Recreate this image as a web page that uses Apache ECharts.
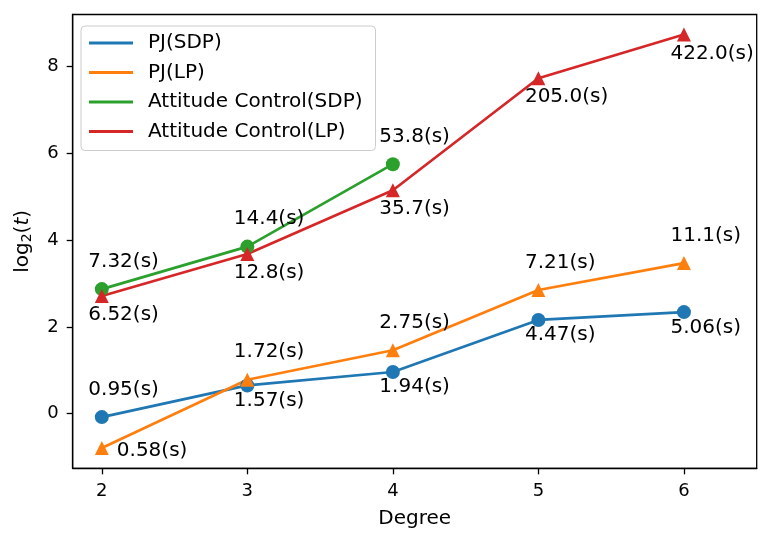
<!DOCTYPE html>
<html>
<head>
<meta charset="utf-8">
<script src="https://cdn.jsdelivr.net/npm/echarts@6/dist/echarts.min.js"></script>
<style>
html,body{margin:0;padding:0;background:#fff;}
#chart{width:771px;height:545px;}
</style>
</head>
<body>
<div id="chart"></div>
<script>
// ---- data ----
const degrees = [2, 3, 4, 5, 6];
const xTicks = [2, 3, 4, 5, 6];
const yTicks = [0, 2, 4, 6, 8];

const pjSdpLog = [-0.08, 0.65, 0.96, 2.16, 2.34];
const pjSdpTime = ['0.95(s)', '1.57(s)', '1.94(s)', '4.47(s)', '5.06(s)'];

const pjLpLog = [-0.79, 0.78, 1.46, 2.85, 3.47];
const pjLpTime = ['0.58(s)', '1.72(s)', '2.75(s)', '7.21(s)', '11.1(s)'];

const acSdpDegrees = [2, 3, 4];
const acSdpLog = [2.87, 3.85, 5.75];
const acSdpTime = ['7.32(s)', '14.4(s)', '53.8(s)'];

const acLpLog = [2.71, 3.68, 5.15, 7.73, 8.74];
const acLpTime = ['6.52(s)', '12.8(s)', '35.7(s)', '205.0(s)', '422.0(s)'];

// ---- label placement (style, not data) ----
const FONT = 'DejaVu Sans';
const labelOffsets = {
  up: [-13.5, -27.5],
  downLP: [-13.5, 19],
  downSDP: [-13.5, 15.3],
  right: [15, 2.5]
};
const pjSdpSides = ['up', 'downSDP', 'downSDP', 'downSDP', 'downSDP'];
const pjLpSides = ['right', 'up', 'up', 'up', 'up'];
const acSdpSides = ['up', 'up', 'up'];
const acLpSides = ['downLP', 'downLP', 'downLP', 'downLP', 'downLP'];

function makeSeries(name, color, symbol, xs, ys, labels, sides) {
  return {
    name: name,
    type: 'line',
    symbol: symbol,
    symbolSize: 14,
    lineStyle: { width: 2.7, color: color },
    itemStyle: { color: color },
    emphasis: { disabled: true },
    z: 2,
    data: xs.map(function (x, i) {
      return {
        value: [x, ys[i]],
        label: {
          show: true,
          formatter: labels[i],
          position: 'inside',
          align: 'left',
          verticalAlign: 'middle',
          offset: labelOffsets[sides[i]],
          color: '#000',
          fontSize: 20,
          fontFamily: FONT
        }
      };
    })
  };
}

const chart = echarts.init(document.getElementById('chart'), null, { renderer: 'canvas' });
chart.setOption({
  animation: false,
  backgroundColor: '#fff',
  textStyle: { fontFamily: FONT },
  grid: {
    left: 72.7, right: 14.3, top: 14.5, bottom: 76.7,
    show: true, borderColor: '#000', borderWidth: 1.3, backgroundColor: 'transparent'
  },
  legend: {
    orient: 'vertical',
    left: 81, top: 26,
    icon: 'rect',
    itemWidth: 44,
    itemHeight: 2.8,
    itemGap: 9.5,
    selectedMode: false,
    padding: [7, 13, 9, 8],
    backgroundColor: 'rgba(255,255,255,0.8)',
    borderColor: '#cccccc',
    borderWidth: 1,
    borderRadius: 4,
    textStyle: { fontSize: 20, lineHeight: 20, color: '#000', fontFamily: FONT, padding: [0, 0, 0, 10] },
    data: ['PJ(SDP)', 'PJ(LP)', 'Attitude Control(SDP)', 'Attitude Control(LP)']
  },
  xAxis: {
    type: 'value',
    min: 1.8, max: 6.5,
    name: 'Degree',
    nameLocation: 'middle',
    nameGap: 38,
    nameTextStyle: { fontSize: 20, lineHeight: 24, color: '#000', fontFamily: FONT },
    axisLine: { show: true, onZero: false, lineStyle: { color: '#000', width: 1.3 } },
    axisTick: { show: true, length: 6, customValues: xTicks, lineStyle: { color: '#000', width: 1.3 } },
    axisLabel: { customValues: xTicks, margin: 14, fontSize: 18, lineHeight: 18, color: '#000', fontFamily: FONT },
    splitLine: { show: false }
  },
  yAxis: {
    type: 'value',
    min: -1.26, max: 9.2,
    name: '{a|log}{sub|2}{a|(}{it|t}{a|)}',
    nameLocation: 'middle',
    nameGap: 38,
    nameTextStyle: {
      color: '#000', fontFamily: FONT,
      rich: {
        a: { fontSize: 20, lineHeight: 24, color: '#000', fontFamily: FONT },
        sub: { fontSize: 14, lineHeight: 16, verticalAlign: 'bottom', color: '#000', fontFamily: FONT },
        it: { fontSize: 20, lineHeight: 24, fontStyle: 'italic', color: '#000', fontFamily: FONT }
      }
    },
    axisLine: { show: true, onZero: false, lineStyle: { color: '#000', width: 1.3 } },
    axisTick: { show: true, length: 6, customValues: yTicks, lineStyle: { color: '#000', width: 1.3 } },
    axisLabel: { customValues: yTicks, margin: 14, fontSize: 18, color: '#000', fontFamily: FONT },
    splitLine: { show: false }
  },
  series: [
    makeSeries('PJ(SDP)', '#1f77b4', 'circle', degrees, pjSdpLog, pjSdpTime, pjSdpSides),
    makeSeries('PJ(LP)', '#ff7f0e', 'triangle', degrees, pjLpLog, pjLpTime, pjLpSides),
    makeSeries('Attitude Control(SDP)', '#2ca02c', 'circle', acSdpDegrees, acSdpLog, acSdpTime, acSdpSides),
    makeSeries('Attitude Control(LP)', '#d62728', 'triangle', degrees, acLpLog, acLpTime, acLpSides)
  ]
});
</script>
</body>
</html>
